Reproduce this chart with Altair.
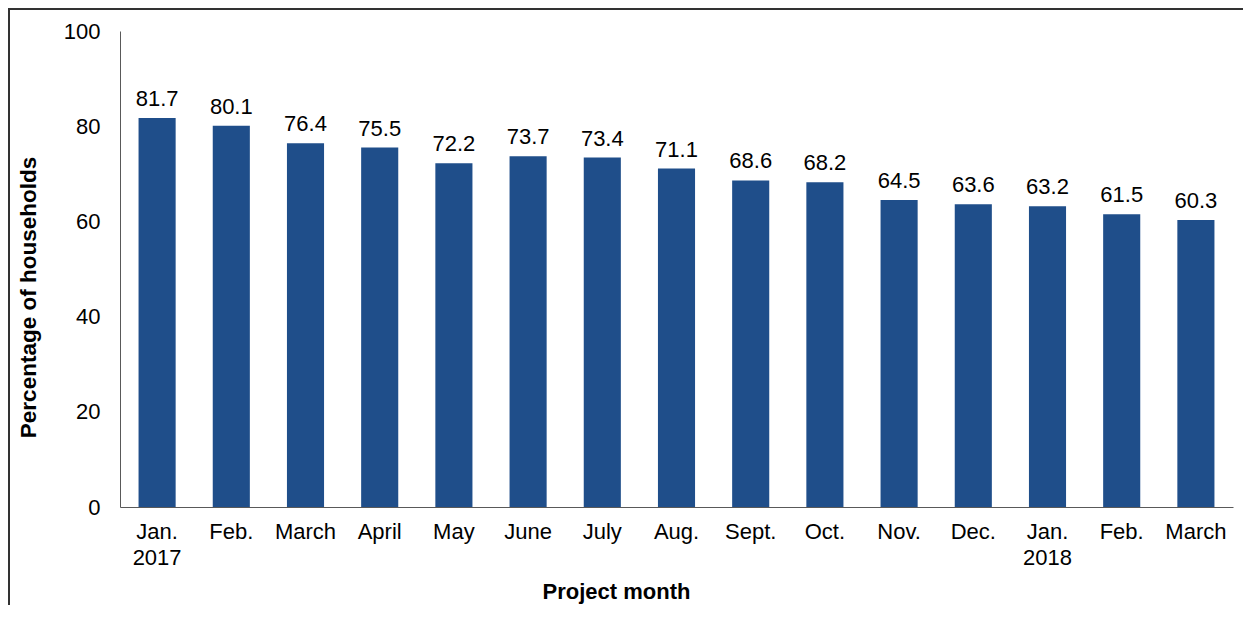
import altair as alt
import pandas as pd

months = ["Jan. 2017", "Feb. 2017", "March 2017", "April 2017", "May 2017", "June 2017",
          "July 2017", "Aug. 2017", "Sept. 2017", "Oct. 2017", "Nov. 2017", "Dec. 2017",
          "Jan. 2018", "Feb. 2018", "March 2018"]
values = [81.7, 80.1, 76.4, 75.5, 72.2, 73.7, 73.4, 71.1, 68.6, 68.2, 64.5, 63.6, 63.2, 61.5, 60.3]
y_ticks = [0, 20, 40, 60, 80, 100]

df = pd.DataFrame({"month": months, "value": values})

FONT = "Liberation Sans"
BAR = "#1F4E8A"
AX = "#595959"

x_enc = alt.X(
    "month:N", sort=None,
    scale=alt.Scale(paddingInner=0.5, paddingOuter=0.25),
    axis=alt.Axis(
        title="Project month", labelAngle=0, ticks=False, domainColor=AX, domainWidth=1,
        labelExpr="indexof(datum.label, 'Jan.') == 0 ? split(datum.label, ' ') : split(datum.label, ' ')[0]",
        labelFont=FONT, labelFontSize=22, labelColor="black", labelPadding=14,
        labelLineHeight=26, labelBaseline="top",
        titleFont=FONT, titleFontSize=22, titleFontWeight="bold", titleColor="black",
        titleX=496, titleY=84, titleBaseline="middle", titleAlign="center",
    ),
)
y_enc = alt.Y(
    "value:Q",
    scale=alt.Scale(domain=[0, 100], nice=False),
    axis=alt.Axis(
        title="Percentage of households", values=y_ticks, grid=False, ticks=False,
        domainColor=AX, domainWidth=1,
        labelFont=FONT, labelFontSize=22, labelColor="black", labelPadding=20,
        titleFont=FONT, titleFontSize=22.5, titleFontWeight="bold", titleColor="black",
        titleX=-92, titleY=266, titleAngle=-90, titleBaseline="middle", titleAlign="center",
    ),
)

bars = alt.Chart(df).mark_bar(color=BAR).encode(x=x_enc, y=y_enc)
labels = alt.Chart(df).mark_text(
    font=FONT, fontSize=22, color="black", baseline="alphabetic", dy=-12
).encode(x=alt.X("month:N", sort=None), y="value:Q", text=alt.Text("value:Q", format=".1f"))

left_border = alt.Chart(df).mark_rule(color="#333333", strokeWidth=1.5).encode(
    x=alt.value(-111.5), y=alt.value(-22.5), y2=alt.value(620)
)
top_border = alt.Chart(df).mark_rule(color="#333333", strokeWidth=1.5).encode(
    x=alt.value(-111.5), x2=alt.value(1200), y=alt.value(-22.5)
)

chart = alt.layer(bars, labels, left_border, top_border).properties(
    width=1113, height=476,
    background="white",
    autosize=alt.AutoSizeParams(type="none"),
    padding={"left": 112, "top": 23, "right": 10, "bottom": 98},
).configure_view(stroke=None)

chart.save("out.html", embed_options={"renderer": "svg", "actions": False})
